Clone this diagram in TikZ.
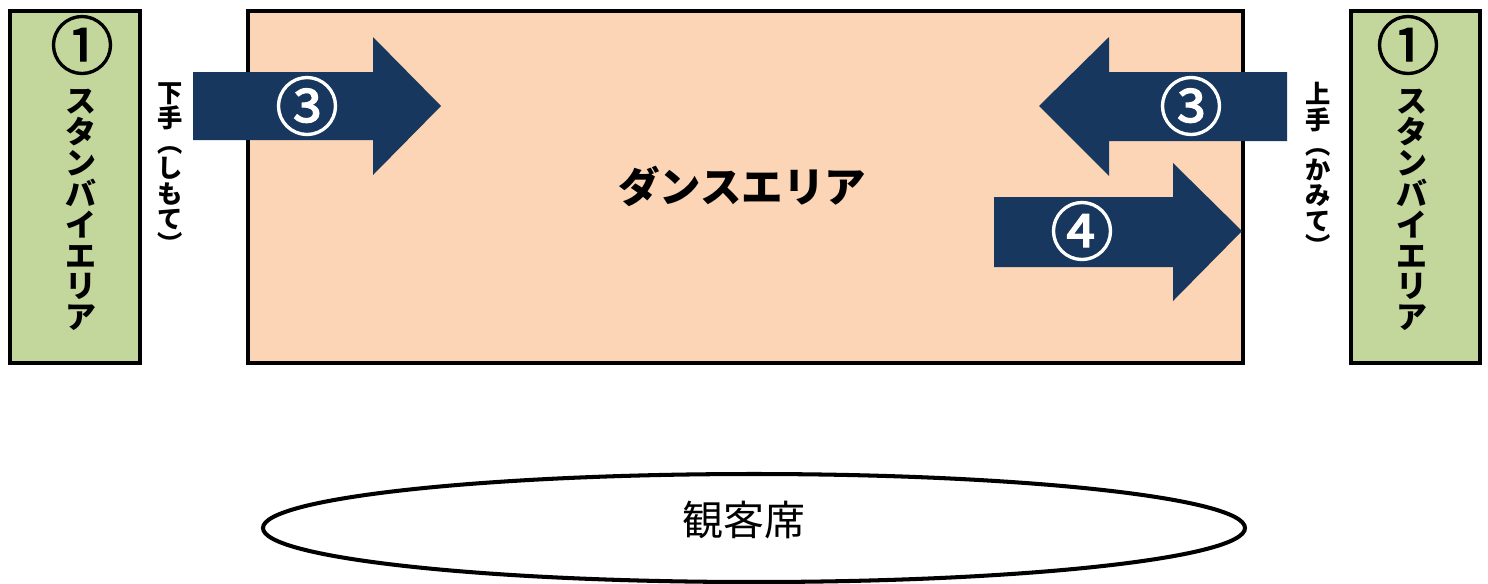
\documentclass[tikz,border=0pt]{standalone}
\usepackage{fontspec}
\setmainfont{Noto Sans CJK JP}
\newfontfamily\jpnum{Noto Sans CJK JP}[FakeBold=2]
\usetikzlibrary{positioning}

\definecolor{standby}{HTML}{C3D69B}
\definecolor{stage}{HTML}{FBD5B5}
\definecolor{navy}{HTML}{17375E}

\tikzset{
    area/.style={line width=2.8pt, draw=black},
    flow/.style={fill=navy, draw=none},
    num/.style={text=white, font=\jpnum\fontsize{36}{36}\selectfont},
    vtext/.style={align=center, inner sep=0pt, font=\bfseries\fontsize{17.6}{17.6}\selectfont},
    sidetext/.style={align=center, inner sep=0pt, font=\bfseries\fontsize{14.4}{14.4}\selectfont}
}

\begin{document}
\begin{tikzpicture}[x=0.02cm, y=-0.02cm]

    \useasboundingbox (0,0) rectangle (1488,583);

    %% Stage
    % Dance area
    \draw[area, fill=stage] (248,11) rectangle (1243,363);
    \node[font=\bfseries\fontsize{23.6}{23.6}\selectfont] (dance) at (742,186) {ダンスエリア};

    % Standby areas
    \draw[area, fill=standby] (10,11) rectangle (140,363);
    \draw[area, fill=standby] (1351,11) rectangle (1480,363);
    \node[num, text=black] (standbyL) at (82,45) {①};
    \node[num, text=black] (standbyR) at (1408,45) {①};
    \node[vtext] (standbyLtxt) at (81,210) {ス\\タ\\ン\\バ\\イ\\エ\\リ\\ア};
    \node[vtext] (standbyRtxt) at (1412,210) {ス\\タ\\ン\\バ\\イ\\エ\\リ\\ア};

    % Stage left / stage right
    \node[sidetext] (shimote) at (170,168) {下\\手\\︵\\し\\も\\て\\︶};
    \node[sidetext] (kamite) at (1318,169) {上\\手\\︵\\か\\み\\て\\︶};

    %% Entries and exits
    % Entry from the left
    \fill[flow] (193,72) -- (373,72) -- (373,37) -- (441,106) -- (373,175) -- (373,140) -- (193,140) -- cycle;
    \node[num] (inL) at (307,106) {③};

    % Entry from the right
    \fill[flow] (1287,72) -- (1109,72) -- (1109,37) -- (1039,106) -- (1109,176) -- (1109,141) -- (1287,141) -- cycle;
    \node[num] (inR) at (1191,106) {③};

    % Exit to the right
    \fill[flow] (994,197) -- (1173,197) -- (1173,163) -- (1242,231) -- (1173,301) -- (1173,267) -- (994,267) -- cycle;
    \node[num] (out) at (1082,231) {④};

    %% Audience
    \draw[line width=2.3pt] (754,528) ellipse (491 and 54);
    \node[font=\fontsize{23.3}{23.3}\selectfont] (audience) at (744,520) {観客席};

\end{tikzpicture}
\end{document}
